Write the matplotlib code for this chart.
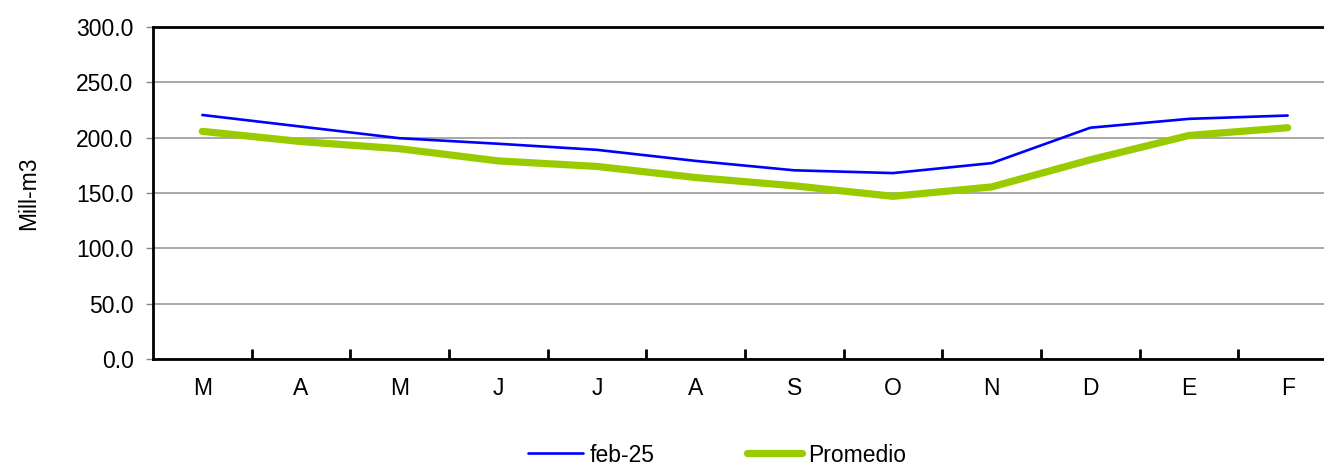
import matplotlib
matplotlib.use("Agg")
import matplotlib.pyplot as plt
from matplotlib.ticker import FixedLocator, NullFormatter, FormatStrFormatter

plt.rcParams['font.family'] = ['Liberation Sans', 'DejaVu Sans']

months = ["M", "A", "M", "J", "J", "A", "S", "O", "N", "D", "E", "F"]
feb25 = [220.5, 210.0, 199.5, 194.5, 189.0, 179.0, 170.5, 168.0, 177.0, 209.0, 217.0, 220.0]
promedio = [205.7, 196.5, 190.0, 179.0, 174.0, 164.0, 156.5, 147.0, 155.5, 180.0, 202.0, 209.0]
y_ticks = [0, 50, 100, 150, 200, 250, 300]
y_label = "Mill-m3"

FS = 16.5
W, H = 1324, 466
fig = plt.figure(figsize=(W / 100, H / 100), dpi=100)
ax = fig.add_axes([153 / W, 107 / H, 1184 / W, 332 / H])

x = list(range(len(months)))
l1, = ax.plot(x, feb25, color="#0000FF", lw=1.9, solid_capstyle="round", label="feb-25", zorder=4)
l2, = ax.plot(x, promedio, color="#99CC00", lw=5.2, solid_capstyle="round", label="Promedio", zorder=3)

ax.set_xlim(-0.5, len(months) - 0.5)
ax.set_ylim(0, 300)

# y axis
ax.set_yticks(y_ticks)
ax.yaxis.set_major_formatter(FormatStrFormatter("%.1f"))
ax.tick_params(axis="y", direction="out", length=5, width=1, color="#888888",
               labelsize=FS, pad=9)
ax.grid(axis="y", color="#999999", lw=1.2, zorder=1)
ax.set_ylabel(y_label, fontsize=FS, labelpad=26)

# x axis: labels centred on months, ticks at month boundaries
ax.xaxis.set_major_locator(FixedLocator([i + 0.5 for i in x[:-1]] + [len(months) - 0.5]))
ax.xaxis.set_major_formatter(NullFormatter())
ax.xaxis.set_minor_locator(FixedLocator(x))
ax.set_xticklabels(months, minor=True)
ax.tick_params(axis="x", which="major", direction="in", length=7, width=2, color="black")
ax.tick_params(axis="x", which="minor", length=0, labelsize=FS, pad=13)

for s in ["left", "bottom", "top", "right"]:
    ax.spines[s].set_linewidth(2)
    ax.spines[s].set_color("black")

fig.legend(handles=[l1, l2], loc="center left", bbox_to_anchor=(528 / W, 1 - 455 / H),
           ncol=2, frameon=False, fontsize=FS, handlelength=2.4, handletextpad=0.3,
           columnspacing=4.0, borderpad=0, borderaxespad=0)

fig.savefig("out.png", dpi=100)
